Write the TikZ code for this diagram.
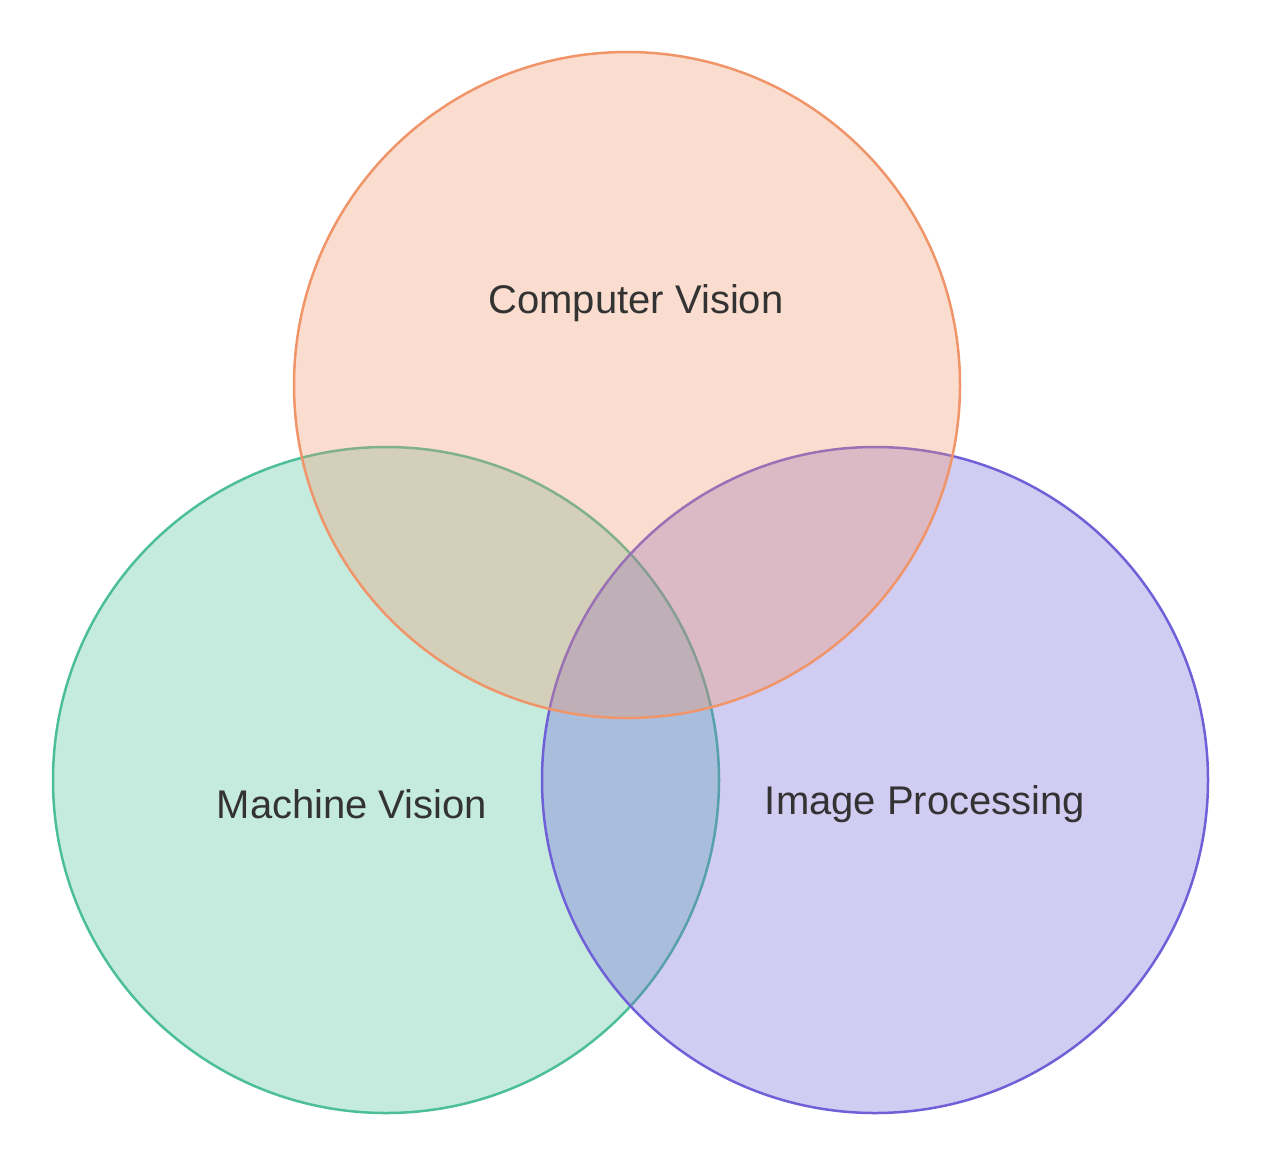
\documentclass[tikz,border=0pt]{standalone}
\usepackage{fontspec}
\setmainfont{Liberation Sans}
\definecolor{mvline}{HTML}{4CBF98}
\definecolor{cvline}{HTML}{F0956A}
\definecolor{ipline}{HTML}{7060D8}
\definecolor{labeltext}{HTML}{333333}
\tikzset{
  set/.style={line width=2.5pt,fill opacity=0.32},
  setlabel/.style={text=labeltext,font=\fontsize{40}{47}\selectfont}
}
\begin{document}
\begin{tikzpicture}[x=1pt,y=-1pt]
  \useasboundingbox (0,0) rectangle (1263,1168);
  % centres
  \coordinate (MV) at (386,780);
  \coordinate (CV) at (627,385);
  \coordinate (IP) at (875,780);
  % circles
  \draw[set,draw=mvline,fill=mvline] (MV) circle (333);
  \draw[set,draw=ipline,fill=ipline] (IP) circle (333);
  \draw[set,draw=cvline,fill=cvline] (CV) circle (333);
  % labels
  \node[setlabel] (cvlabel) at (636,303) {Computer Vision};
  \node[setlabel] (mvlabel) at (352,804) {Machine Vision};
  \node[setlabel] (iplabel) at (925,804) {Image Processing};
\end{tikzpicture}
\end{document}
